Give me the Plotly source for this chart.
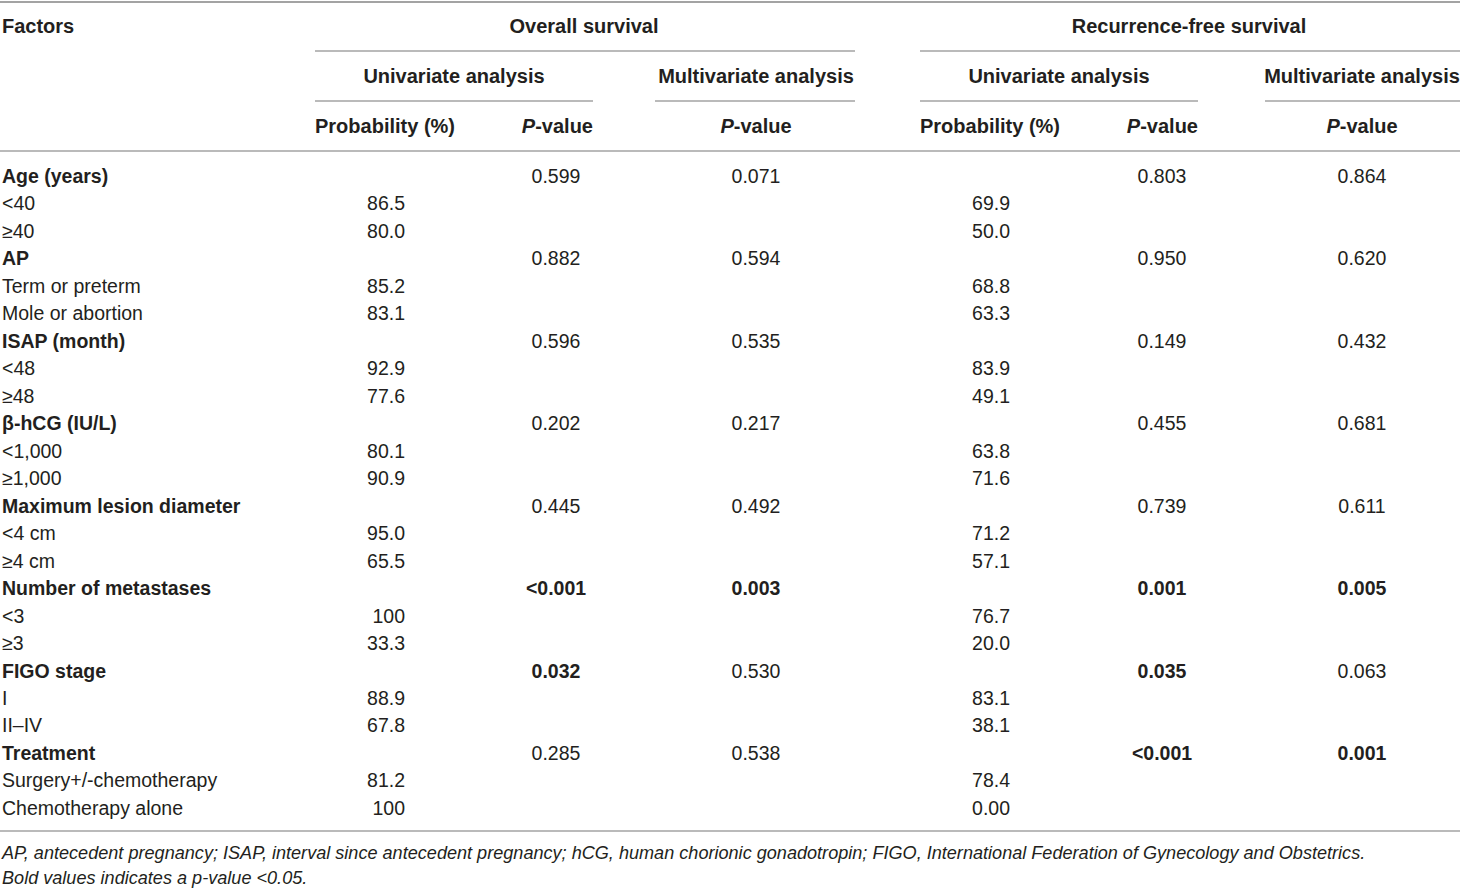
import plotly.graph_objects as go

# table content
groups = ["Age (years)", "AP", "ISAP (month)", "β-hCG (IU/L)",
          "Maximum lesion diameter", "Number of metastases", "FIGO stage", "Treatment"]
levels = [["<40", "≥40"], ["Term or preterm", "Mole or abortion"], ["<48", "≥48"],
          ["<1,000", "≥1,000"], ["<4 cm", "≥4 cm"], ["<3", "≥3"], ["I", "II–IV"],
          ["Surgery+/-chemotherapy", "Chemotherapy alone"]]
os_prob = [["86.5", "80.0"], ["85.2", "83.1"], ["92.9", "77.6"], ["80.1", "90.9"],
           ["95.0", "65.5"], ["100", "33.3"], ["88.9", "67.8"], ["81.2", "100"]]
os_uni_p = ["0.599", "0.882", "0.596", "0.202", "0.445", "<0.001", "0.032", "0.285"]
os_multi_p = ["0.071", "0.594", "0.535", "0.217", "0.492", "0.003", "0.530", "0.538"]
rfs_prob = [["69.9", "50.0"], ["68.8", "63.3"], ["83.9", "49.1"], ["63.8", "71.6"],
            ["71.2", "57.1"], ["76.7", "20.0"], ["83.1", "38.1"], ["78.4", "0.00"]]
rfs_uni_p = ["0.803", "0.950", "0.149", "0.455", "0.739", "0.001", "0.035", "<0.001"]
rfs_multi_p = ["0.864", "0.620", "0.432", "0.681", "0.611", "0.005", "0.063", "0.001"]

footnotes = [
    "AP, antecedent pregnancy; ISAP, interval since antecedent pregnancy; hCG, human chorionic "
    "gonadotropin; FIGO, International Federation of Gynecology and Obstetrics.",
    "Bold values indicates a p-value <0.05.",
]

W, H = 1460, 888
FONT = "Liberation Sans, Arial, sans-serif"
INK = "#231f20"
RULE = "#a3a3a3"
FS = 19.5
FS_HEAD = 20
FS_NOTE = 18.1

# layout (pixel units on hidden axes)
DY = 2  # text baseline nudge
ROW0, STEP = 176 + DY, 27.48
X_FACT, X_OSP, X_OSU, X_OSM = 2, 405, 556, 756
X_RFP, X_RFU, X_RFM = 1010, 1162, 1362


def pval(s):
    v = float(s.lstrip("<"))
    return "<b>%s</b>" % s if v < 0.05 else s


# flatten into rows
fact, fy, prob_os, prob_rfs, py_, p_os_u, p_os_m, p_rf_u, p_rf_m, gy = [], [], [], [], [], [], [], [], [], []
r = 0
for i, g in enumerate(groups):
    y = ROW0 + r * STEP
    fact.append("<b>%s</b>" % g)
    fy.append(y)
    gy.append(y)
    p_os_u.append(pval(os_uni_p[i]))
    p_os_m.append(pval(os_multi_p[i]))
    p_rf_u.append(pval(rfs_uni_p[i]))
    p_rf_m.append(pval(rfs_multi_p[i]))
    r += 1
    for j, lv in enumerate(levels[i]):
        y = ROW0 + r * STEP
        fact.append(lv)
        fy.append(y)
        py_.append(y)
        prob_os.append(os_prob[i][j])
        prob_rfs.append(rfs_prob[i][j])
        r += 1

fig = go.Figure()


def add_text(xs, ys, texts, pos, size=FS, italic=False):
    fig.add_trace(go.Scatter(
        x=xs, y=ys, text=texts, mode="text", textposition=pos,
        textfont=dict(family=FONT, size=size, color=INK, style="italic" if italic else "normal"),
        hoverinfo="skip", showlegend=False,
    ))


# body
add_text([X_FACT] * len(fact), fy, fact, "middle right")
add_text([X_OSP] * len(prob_os), py_, prob_os, "middle left")
add_text([X_RFP] * len(prob_rfs), py_, prob_rfs, "middle left")
add_text([X_OSU] * len(gy), gy, p_os_u, "middle center")
add_text([X_OSM] * len(gy), gy, p_os_m, "middle center")
add_text([X_RFU] * len(gy), gy, p_rf_u, "middle center")
add_text([X_RFM] * len(gy), gy, p_rf_m, "middle center")

# header
H1, H2, H3 = 26 + DY, 76 + DY, 126 + DY
add_text([X_FACT], [H1], ["<b>Factors</b>"], "middle right", FS_HEAD)
add_text([584, 1189], [H1, H1], ["<b>Overall survival</b>", "<b>Recurrence-free survival</b>"],
         "middle center", FS_HEAD)
add_text([454, 756, 1059, 1362], [H2] * 4, ["<b>Univariate analysis</b>", "<b>Multivariate analysis</b>"] * 2,
         "middle center", FS_HEAD)
add_text([315, 920], [H3, H3], ["<b>Probability (%)</b>"] * 2, "middle right", FS_HEAD)
add_text([593, 1198], [H3, H3], ["<b><i>P</i>-value</b>"] * 2, "middle left", FS_HEAD)
add_text([756, 1362], [H3, H3], ["<b><i>P</i>-value</b>"] * 2, "middle center", FS_HEAD)

# footnotes
add_text([X_FACT, X_FACT], [852 + DY, 877 + DY], footnotes, "middle right", FS_NOTE, italic=True)

# rules
rules = [(0, W, 2, 2.0), (0, W, 151, 1.5), (0, W, 831, 1.5),
         (315, 855, 51, 1.5), (920, W, 51, 1.5),
         (315, 593, 101, 1.5), (655, 855, 101, 1.5),
         (920, 1198, 101, 1.5), (1265, W, 101, 1.5)]
for x0, x1, y, lw in rules:
    fig.add_shape(type="line", x0=x0, x1=x1, y0=y, y1=y, xref="x", yref="y",
                  line=dict(color=RULE, width=lw))

fig.update_layout(
    width=W, height=H, margin=dict(l=0, r=0, t=0, b=0),
    paper_bgcolor="white", plot_bgcolor="white",
    xaxis=dict(range=[0, W], visible=False, fixedrange=True),
    yaxis=dict(range=[H, 0], visible=False, fixedrange=True),
)

fig.write_html("out.html", config={"displayModeBar": False},
               post_script="document.body.style.margin='0';document.body.style.overflow='hidden';")
